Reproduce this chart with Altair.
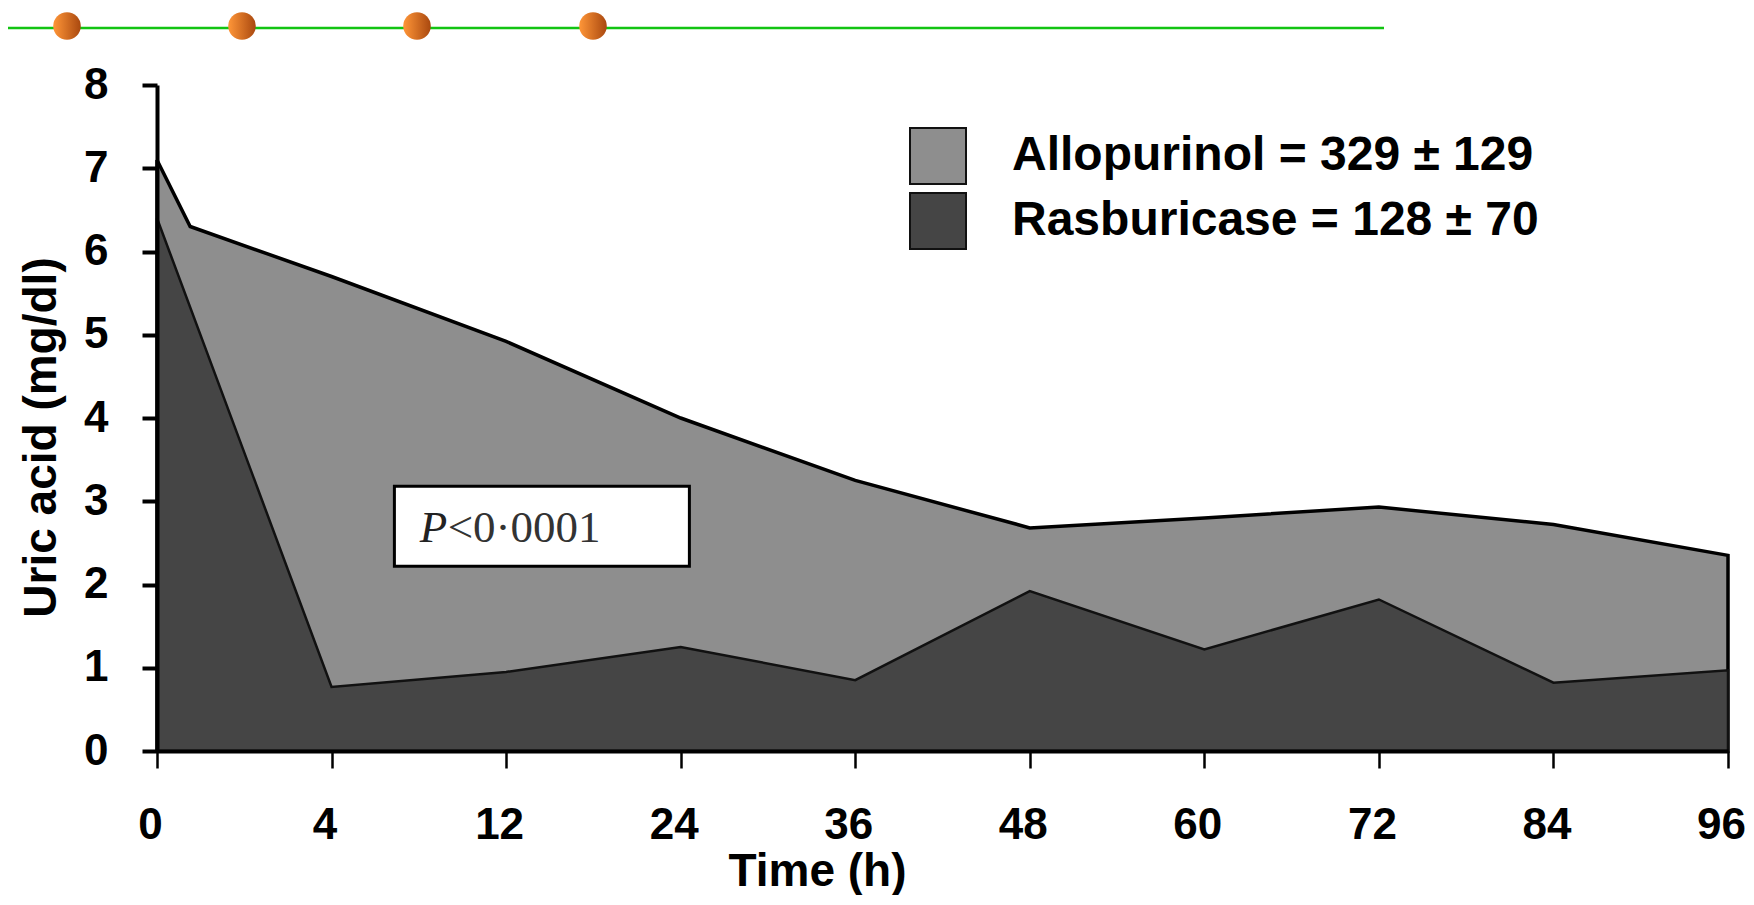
import altair as alt
import pandas as pd

# ---- data ----
time_labels = ["0", "4", "12", "24", "36", "48", "60", "72", "84", "96"]
time_index = list(range(len(time_labels)))

allo_index = [0, 0.19, 1, 2, 3, 4, 5, 6, 7, 8, 9]
allo_values = [7.1, 6.3, 5.7, 4.92, 4.0, 3.25, 2.68, 2.8, 2.93, 2.72, 2.35]

ras_index = time_index
ras_values = [6.4, 0.77, 0.95, 1.25, 0.85, 1.92, 1.22, 1.82, 0.82, 0.97]

series_names = ["Allopurinol = 329 ± 129", "Rasburicase = 128 ± 70"]
series_fills = ["#8e8e8e", "#454545"]

box_time = [1.36, 3.05]
box_level = [2.22, 3.18]
p_parts = ["P", "<0·0001"]
p_anchor = [1.505, 2.51]

FONT = "Liberation Sans"
SERIF = "Liberation Serif"

allo_df = pd.DataFrame({"t": allo_index, "v": allo_values, "series": series_names[0]})
ras_df = pd.DataFrame({"t": ras_index, "v": ras_values, "series": series_names[1]})
box_df = pd.DataFrame({"t": [box_time[0]], "t2": [box_time[1]], "v": [box_level[0]], "v2": [box_level[1]]})
p_df = pd.DataFrame({"t": [p_anchor[0]], "v": [p_anchor[1]], "a": [p_parts[0]], "b": [p_parts[1]]})
one = pd.DataFrame({"k": [0]})

label_expr = "[" + ",".join("'%s'" % s for s in time_labels) + "][datum.value]"

x_enc = alt.X(
    "t:Q",
    scale=alt.Scale(domain=[0, len(time_labels) - 1], nice=False, zero=False),
    axis=alt.Axis(
        values=time_index, labelExpr=label_expr, title="Time (h)",
        titleFont=FONT, titleFontSize=46, titleFontWeight="bold", titleColor="black",
        titleX=660, titleY=134, titleAlign="center", titleBaseline="alphabetic",
        labelFont=FONT, labelFontSize=44, labelFontWeight="bold", labelColor="black",
        labelPadding=35, labelOffset=-7, labelFlush=False, labelOverlap=False,
        tickSize=17, tickWidth=2.5, tickColor="black",
        domainColor="black", domainWidth=4, grid=False, zindex=1,
    ),
)
y_enc = alt.Y(
    "v:Q",
    scale=alt.Scale(domain=[0, 8], nice=False),
    axis=alt.Axis(
        values=list(range(9)), format="d", title="Uric acid (mg/dl)",
        titleFont=FONT, titleFontSize=46, titleFontWeight="bold", titleColor="black",
        titleX=-102, titleY=352, titleAngle=270, titleAlign="center", titleBaseline="alphabetic",
        labelFont=FONT, labelFontSize=44, labelFontWeight="bold", labelColor="black",
        labelPadding=34, labelFlush=False,
        tickSize=15, tickWidth=4, tickColor="black",
        domainColor="black", domainWidth=4, grid=False, zindex=1,
    ),
)

color_enc = alt.Color(
    "series:N",
    scale=alt.Scale(domain=series_names, range=series_fills),
    legend=alt.Legend(
        title=None, orient="none", legendX=752, legendY=42,
        symbolType="square", symbolSize=3136, symbolOpacity=1,
        symbolStrokeColor="#555555", symbolStrokeWidth=2,
        labelFont=FONT, labelFontSize=48, labelFontWeight="bold", labelColor="black",
        labelOffset=45, labelLimit=900, rowPadding=1,
    ),
)

allo_area = alt.Chart(allo_df).mark_area(stroke="black", strokeWidth=3.5, opacity=1).encode(
    x=x_enc, y=y_enc, color=color_enc
)
ras_area = alt.Chart(ras_df).mark_area(stroke="#111111", strokeWidth=2.5, opacity=1).encode(
    x="t:Q", y="v:Q", color=alt.Color("series:N", scale=alt.Scale(domain=series_names, range=series_fills))
)

box = alt.Chart(box_df).mark_rect(fill="white", stroke="black", strokeWidth=3).encode(
    x="t:Q", x2="t2:Q", y="v:Q", y2="v2:Q"
)
p_text1 = alt.Chart(p_df).mark_text(
    font=SERIF, fontSize=45, fontStyle="italic", color="#222222", align="left", baseline="alphabetic"
).encode(x="t:Q", y="v:Q", text="a:N")
p_text2 = alt.Chart(p_df).mark_text(
    font=SERIF, fontSize=45, color="#333333", align="left", baseline="alphabetic", dx=28
).encode(x="t:Q", y="v:Q", text="b:N")

# decorative header (green line with orange dots)
green = alt.Chart(one).mark_rule(color="#12c412", strokeWidth=2.5).encode(
    x=alt.value(-149), x2=alt.value(1227), y=alt.value(-57)
)
dot_fill = alt.LinearGradient(
    gradient="linear",
    stops=[alt.GradientStop(color="#ff9638", offset=0), alt.GradientStop(color="#a9480f", offset=1)],
    x1=0, x2=1, y1=0, y2=0,
)
dots = [
    alt.Chart(one).mark_circle(size=760, fill=dot_fill, opacity=1).encode(
        x=alt.value(px), y=alt.value(-59)
    )
    for px in [-90, 85, 260, 436]
]

chart = alt.layer(allo_area, ras_area, box, p_text1, p_text2, green, *dots).properties(
    width=1571, height=666,
    padding={"left": 149, "top": 77, "right": 18, "bottom": 144},
    autosize=alt.AutoSizeParams(type="none"),
    background="white",
).configure_view(stroke=None)

chart.save("out.html", embed_options={"renderer": "svg", "actions": False})
